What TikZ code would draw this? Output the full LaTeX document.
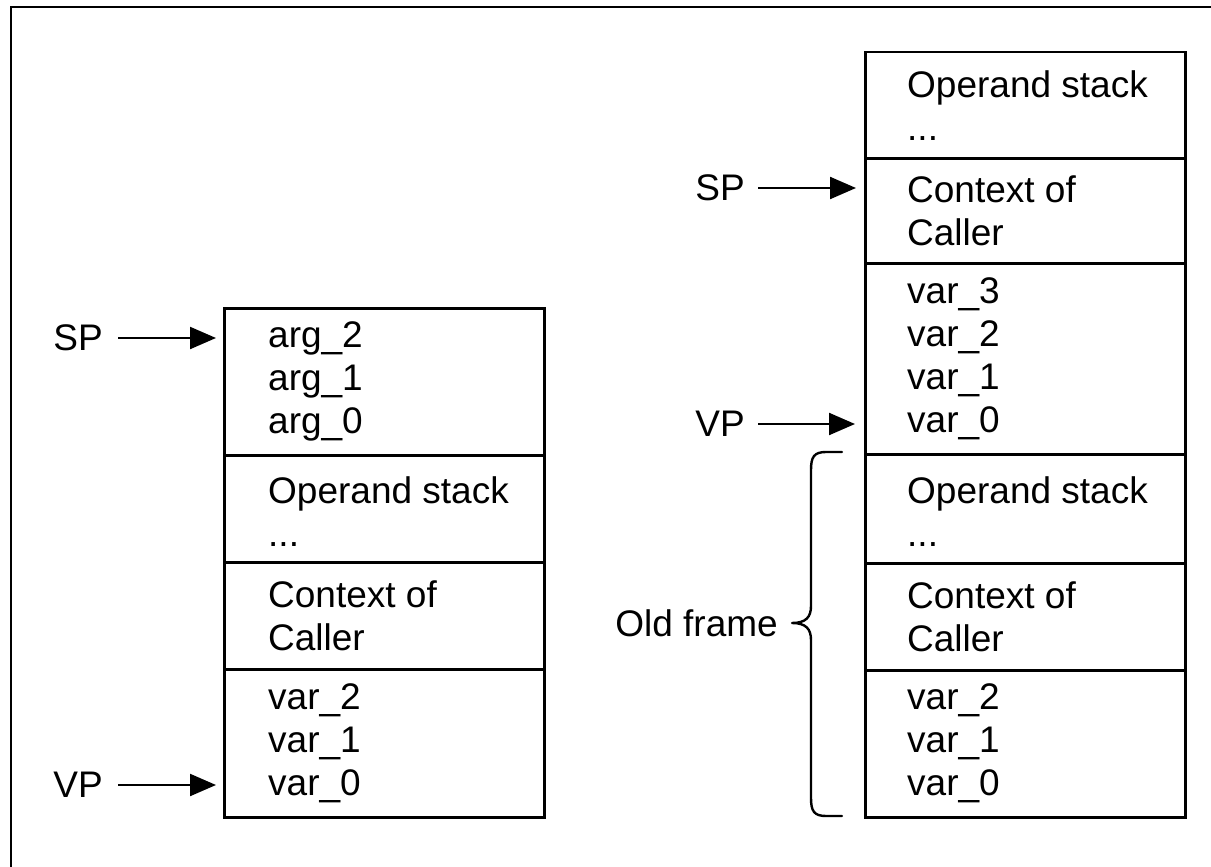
\documentclass[tikz,border=0pt]{standalone}
\usepackage{fontspec}
\setmainfont{Liberation Sans}
\usetikzlibrary{arrows.meta}
\begin{document}
\begin{tikzpicture}[x=1pt,y=-1pt,
  cell/.style={draw=black, line width=2.5pt, minimum width=320pt, anchor=north west, inner sep=0pt},
  txt/.style={font=\fontsize{37}{43}\selectfont, align=left, anchor=west, inner sep=0pt},
  lbl/.style={font=\fontsize{37}{43}\selectfont, anchor=east, inner sep=0pt},
  ptr/.style={-{Triangle[length=26pt,width=22pt]}, line width=2.2pt},
  outerframe/.style={line width=2.2pt},
  bracestyle/.style={line width=2.4pt, line join=round, line cap=round}]
\useasboundingbox (0,0) rectangle (1211,867);
% outer frame (only top and left edges visible)
\draw[outerframe] (11,867) -- (11,7) -- (1211,7);

% left stack
\node[cell, minimum height=147pt] (L1) at (223,307) {};
\node[cell, minimum height=107pt] (L2) at (223,454) {};
\node[cell, minimum height=107pt] (L3) at (223,561) {};
\node[cell, minimum height=148pt] (L4) at (223,668) {};
\node[txt] (L1t) at ([xshift=45pt]L1.west) {arg\_2\\arg\_1\\arg\_0};
\node[txt] (L2t) at ([xshift=45pt,yshift=-3pt]L2.west) {Operand stack\\...};
\node[txt] (L3t) at ([xshift=45pt]L3.west) {Context of\\Caller};
\node[txt] (L4t) at ([xshift=45pt]L4.west) {var\_2\\var\_1\\var\_0};

% right stack
\node[cell, minimum height=106pt] (R1) at (864,51) {};
\node[cell, minimum height=105pt] (R2) at (864,157) {};
\node[cell, minimum height=191pt] (R3) at (864,262) {};
\node[cell, minimum height=109pt] (R4) at (864,453) {};
\node[cell, minimum height=107pt] (R5) at (864,562) {};
\node[cell, minimum height=147pt] (R6) at (864,669) {};
\node[txt] (R1t) at ([xshift=43pt]R1.west) {Operand stack\\...};
\node[txt] (R2t) at ([xshift=43pt]R2.west) {Context of\\Caller};
\node[txt] (R3t) at ([xshift=43pt]R3.west) {var\_3\\var\_2\\var\_1\\var\_0};
\node[txt] (R4t) at ([xshift=43pt,yshift=-3pt]R4.west) {Operand stack\\...};
\node[txt] (R5t) at ([xshift=43pt]R5.west) {Context of\\Caller};
\node[txt] (R6t) at ([xshift=43pt]R6.west) {var\_2\\var\_1\\var\_0};

% pointers
\node[lbl] (spL) at (103,338) {SP};
\node[lbl] (vpL) at (103,785) {VP};
\node[lbl] (spR) at (745,188) {SP};
\node[lbl] (vpR) at (745,424) {VP};
\draw[ptr] ([xshift=15pt]spL.east) -- ([xshift=-7pt]spL.east -| L1.west);
\draw[ptr] ([xshift=15pt]vpL.east) -- ([xshift=-7pt]vpL.east -| L4.west);
\draw[ptr] ([xshift=13pt]spR.east) -- ([xshift=-8pt]spR.east -| R2.west);
\draw[ptr] ([xshift=13pt]vpR.east) -- ([xshift=-9pt]vpR.east -| R3.west);

% old frame brace
\draw[bracestyle] (842,452) -- (826,452) .. controls (814,452) and (811,457) .. (811,470)
  -- (811,606) .. controls (811,617) and (806,623) .. (792,623)
  .. controls (806,623) and (811,629) .. (811,640)
  -- (811,798) .. controls (811,811) and (814,816) .. (826,816) -- (842,816);
\node[lbl] (old) at (778,623) {Old frame};
\end{tikzpicture}
\end{document}
